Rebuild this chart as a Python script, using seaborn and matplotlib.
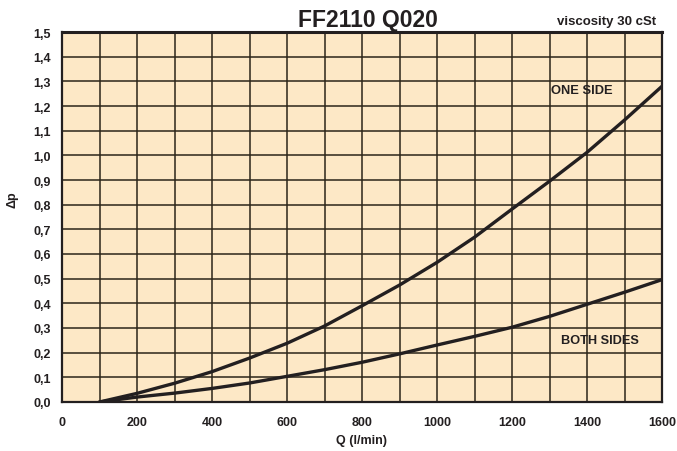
import matplotlib
matplotlib.use("Agg")
import matplotlib.pyplot as plt
from matplotlib.ticker import MultipleLocator, FuncFormatter
import numpy as np
import pandas as pd
import seaborn as sns

# Flow rate (l/min) and pressure drop for the two element configurations
flow = [100, 200, 300, 400, 500, 600, 700, 800, 900, 1000, 1100, 1200, 1300, 1400, 1500, 1600]
dp_one_side = [0.0, 0.035, 0.076, 0.123, 0.178, 0.238, 0.308, 0.39, 0.474, 0.566, 0.668, 0.782, 0.895, 1.012, 1.143, 1.28]
dp_both_sides = [0.0, 0.02, 0.036, 0.055, 0.077, 0.104, 0.131, 0.161, 0.195, 0.231, 0.266, 0.303, 0.347, 0.396, 0.445, 0.496]

x_ticks = [0, 200, 400, 600, 800, 1000, 1200, 1400, 1600]

df = pd.DataFrame({
    "Q": flow * 2,
    "dp": dp_one_side + dp_both_sides,
    "series": ["ONE SIDE"] * len(flow) + ["BOTH SIDES"] * len(flow),
})

sns.set_theme(style="white")
plt.rcParams["font.family"] = ["Liberation Sans", "DejaVu Sans"]

fig = plt.figure(figsize=(6.77, 4.52), dpi=100)
ax = fig.add_axes([62 / 677, 1 - 403 / 452, 600 / 677, 370 / 452])
ax.set_facecolor("#FDE8C6")

sns.lineplot(data=df, x="Q", y="dp", hue="series",
             palette={"ONE SIDE": "#231f20", "BOTH SIDES": "#231f20"},
             linewidth=2.4, legend=False, ax=ax, zorder=3)

ax.set_xlim(0, 1600)
ax.set_ylim(0, 1.5)
ax.set_xticks(x_ticks)
ax.xaxis.set_minor_locator(MultipleLocator(100))
ax.yaxis.set_major_locator(MultipleLocator(0.1))
ax.yaxis.set_major_formatter(FuncFormatter(lambda v, p: f"{v:.1f}".replace(".", ",")))

ax.grid(which="both", axis="x", color="#2b2519", linewidth=1.1, zorder=1)
ax.grid(which="major", axis="y", color="#2b2519", linewidth=1.1, zorder=1)
ax.tick_params(which="both", length=0)
ax.tick_params(axis="x", pad=10)
ax.tick_params(axis="y", pad=8)

for lab in ax.get_xticklabels() + ax.get_yticklabels():
    lab.set_fontweight("bold")
    lab.set_fontsize(9)
    lab.set_color("#231f20")

for name, sp in ax.spines.items():
    sp.set_color("#231f20")
    sp.set_linewidth(1.6)
ax.spines["top"].set_linewidth(2.2)

ax.set_xlabel("Q (l/min)", fontsize=9, fontweight="bold", color="#231f20")
ax.set_ylabel("\u0394p", fontsize=9, fontweight="bold", color="#231f20")
ax.xaxis.set_label_coords(0.5, -0.103)
ax.yaxis.set_label_coords(-0.082, 0.549)
ax.xaxis.label.set_va("center")
ax.yaxis.label.set_va("center")

ax.text(1304, 1.265, "ONE SIDE", fontsize=9.3, fontweight="bold", color="#231f20",
        va="center", ha="left", zorder=4)
ax.text(1331, 0.251, "BOTH SIDES", fontsize=9.2, fontweight="bold", color="#231f20",
        va="center", ha="left", zorder=4)

fig.text(368 / 677, 1 - 20 / 452, "FF2110 Q020", fontsize=16.5, fontweight="bold",
         color="#231f20", ha="center", va="center")
fig.text(607 / 677, 1 - 22 / 452, "viscosity 30 cSt", fontsize=9.5, fontweight="bold",
         color="#231f20", ha="center", va="center")

fig.savefig("out.png", dpi=100, facecolor="white")
